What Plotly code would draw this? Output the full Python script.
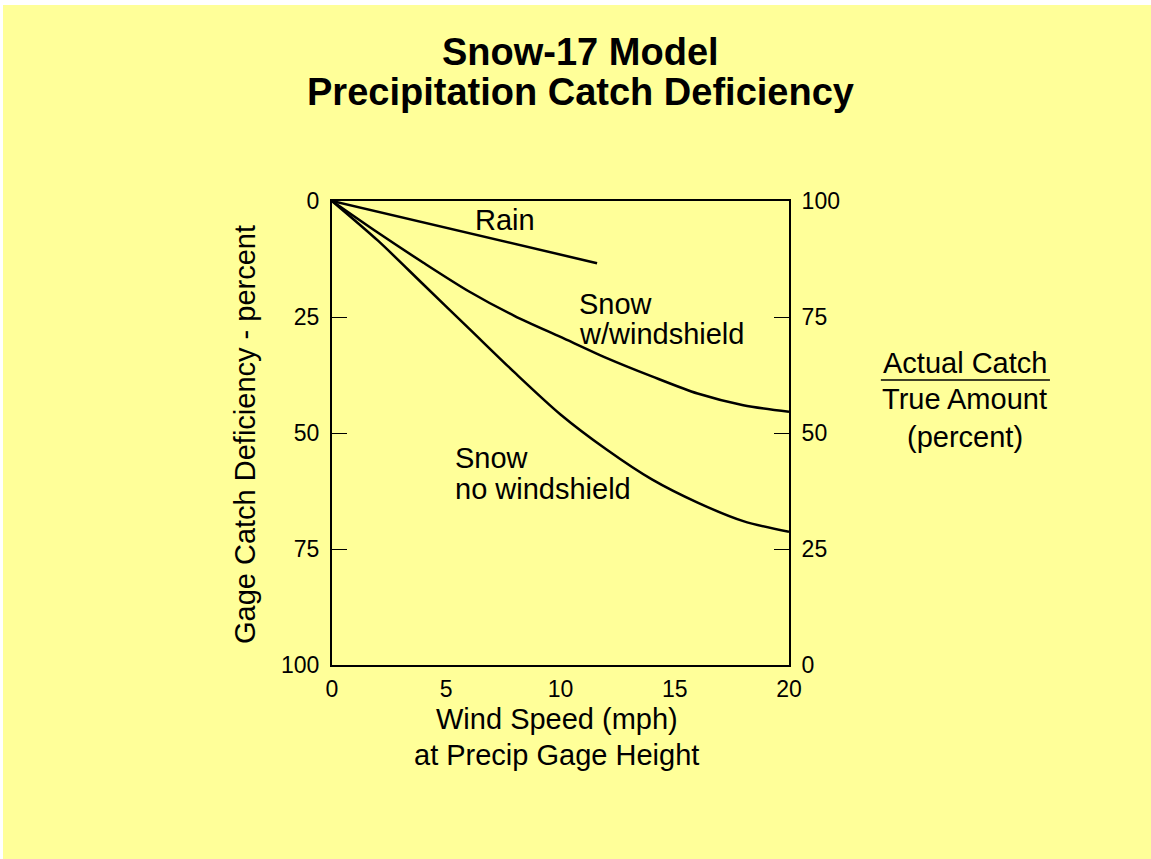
import plotly.graph_objects as go

# wind speed (mph) vs gage catch deficiency (percent)
rain_wind = [0, 11.6]
rain_def = [0, 13.4]

wind = [0, 2, 4, 6, 8, 10, 12, 14, 16, 18, 20]
snow_shield_def = [0, 6.8, 13.3, 19.5, 24.8, 29.3, 33.8, 37.8, 41.5, 44.0, 45.4]
snow_noshield_def = [0, 8.5, 18.0, 27.5, 37.0, 46.0, 53.5, 60.0, 65.0, 69.0, 71.3]

left_ticks = [0, 25, 50, 75, 100]
right_ticks = [0, 25, 50, 75, 100]
x_ticks = [0, 5, 10, 15, 20]

FONT = "Liberation Sans, Arial, Helvetica, sans-serif"
BG = "#FFFF99"

fig = go.Figure()
line = dict(color="black", width=2.5, shape="spline", smoothing=0.8)
fig.add_trace(go.Scatter(x=rain_wind, y=rain_def, mode="lines",
                         line=dict(color="black", width=2.5)))
fig.add_trace(go.Scatter(x=wind, y=snow_shield_def, mode="lines", line=line))
fig.add_trace(go.Scatter(x=wind, y=snow_noshield_def, mode="lines", line=line))
# invisible trace so the right axis exists
fig.add_trace(go.Scatter(x=[0, 20], y=[100, 0], mode="lines", yaxis="y2",
                         line=dict(width=0), hoverinfo="skip"))

axis_font = dict(family=FONT, size=23, color="black")
fig.update_layout(
    # page gets a 5px top / 3px left white border (see post_script below)
    width=1148, height=854,
    margin=dict(l=329, r=362, t=196, b=194),
    paper_bgcolor=BG, plot_bgcolor=BG,
    showlegend=False,
    font=dict(family=FONT, color="black"),
    xaxis=dict(range=[0, 20], tickvals=x_ticks, showgrid=False, zeroline=False,
               showline=True, mirror=True, linecolor="black", linewidth=2,
               ticks="", tickfont=axis_font, ticklabelstandoff=2),
    yaxis=dict(range=[100, 0], tickvals=left_ticks, showgrid=False, zeroline=False,
               showline=True, linecolor="black", linewidth=2,
               ticks="inside", ticklen=15, tickwidth=1, tickcolor="black",
               tickfont=axis_font, ticklabelstandoff=6),
    yaxis2=dict(range=[0, 100], tickvals=right_ticks, overlaying="y", side="right",
                showgrid=False, zeroline=False, showline=True, linecolor="black",
                linewidth=2, ticks="inside", ticklen=15, tickwidth=1,
                tickcolor="black", tickfont=axis_font, ticklabelstandoff=6),
)


def label(text, x, y, size=29, ref="paper", **kw):
    opts = dict(xanchor="center", yanchor="middle")
    opts.update(kw)
    fig.add_annotation(text=text, x=x, y=y, xref="paper" if ref == "paper" else "x",
                       yref="paper" if ref == "paper" else "y", showarrow=False,
                       font=dict(family=FONT, size=size, color="black"), **opts)


# title
label("<b>Snow-17 Model</b>", 0.543, 1.321, size=38)
label("<b>Precipitation Catch Deficiency</b>", 0.543, 1.235, size=38)

# axis titles
label("Wind Speed (mph)", 0.492, -0.116)
label("at Precip Gage Height", 0.492, -0.194)
label("Gage Catch Deficiency - percent", -0.190, 0.496, textangle=-90)

# right side label
label("Actual Catch", 1.385, 0.651)
label("True Amount", 1.385, 0.573)
label("(percent)", 1.385, 0.491)
fig.add_shape(type="line", xref="paper", yref="paper",
              x0=1.201, x1=1.571, y0=0.614, y1=0.614,
              line=dict(color="black", width=1.5))

# curve labels
label("Rain", 7.57, 4.1, ref="data")
label("Snow", 10.72, 22.3, ref="data", xanchor="left")
label("w/windshield", 10.72, 28.6, ref="data", xanchor="left")
label("Snow", 5.3, 55.4, ref="data", xanchor="left")
label("no windshield", 5.3, 62.1, ref="data", xanchor="left")

fig.write_html("out.html",
               post_script="document.body.style.margin='5px 0 0 3px';")
